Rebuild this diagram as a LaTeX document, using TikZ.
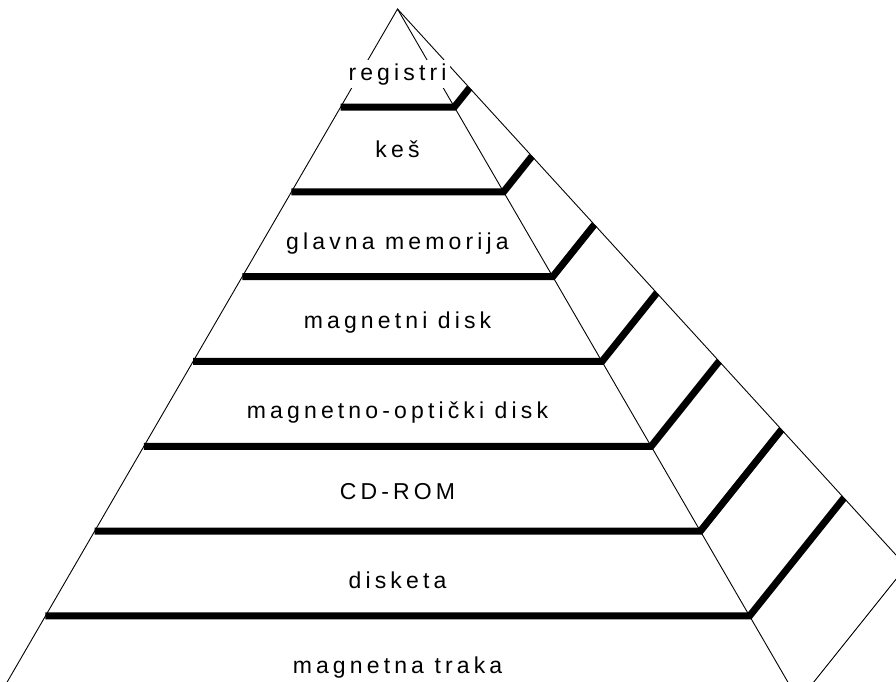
\documentclass[tikz,border=0pt]{standalone}
\usepackage{fontspec}
\setmainfont{Liberation Sans}
\usetikzlibrary{calc}

\begin{document}
\begin{tikzpicture}[x=1pt, y=-1pt,
                    edge line/.style={line width=0.9pt},
                    shelf line/.style={line width=7pt, line join=miter},
                    level label/.style={anchor=base, fill=white, inner sep=3pt,
                      font=\fontsize{23}{27}\selectfont\addfontfeatures{LetterSpace=18}}]

  \useasboundingbox (0,0) rectangle (896,681);
  \clip (0,0) rectangle (896,681);

  \coordinate (apex) at (397.5,9);

  % points of every level, measured down from the apex
  \foreach \i in {1,...,8} {
    \pgfmathsetmacro{\t}{98+84.83*(\i-1)}
    \coordinate (L\i) at ($(apex)+(-0.58*\t,\t)$);
    \coordinate (F\i) at ($(apex)+(0.58*\t,\t)$);
    \coordinate (B\i) at ($(apex)+(0.7355*\t,0.8056*\t)$);
  }
  \coordinate (back) at ($(apex)+(0.913*700,700)$);

  % edges of the pyramid
  \draw[edge line] (L8) -- (apex) -- (F8);
  \draw[edge line] (apex) -- (back);
  \draw[edge line] (F8) -- (B8);

  % shelves
  \foreach \i in {1,...,7}
    \draw[shelf line] (L\i) -- (F\i) -- (B\i);

  % labels
  \node[level label] (reg)  at (397.5,80)  {registri};
  \node[level label] (kes)  at (397.5,157) {keš};
  \node[level label] (glav) at (397.5,249) {glavna memorija};
  \node[level label] (mdisk) at (397.5,328) {magnetni disk};
  \node[level label] (mo)   at (397.5,418) {magnetno-optički disk};
  \node[level label] (cd)   at (397.5,499) {CD-ROM};
  \node[level label] (disk) at (397.5,588) {disketa};
  \node[level label] (trak) at (397.5,673) {magnetna traka};
\end{tikzpicture}
\end{document}
